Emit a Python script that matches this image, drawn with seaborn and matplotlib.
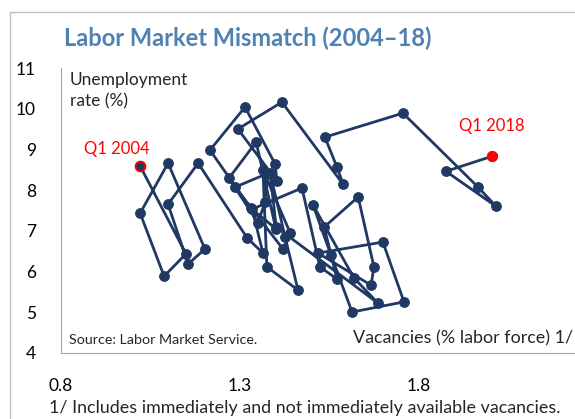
import matplotlib
matplotlib.use("Agg")
import matplotlib.pyplot as plt
import seaborn as sns
import pandas as pd
from matplotlib.patches import Rectangle

# Quarterly Beveridge curve, Q1 2004 - Q1 2018 (one row per line = one year)
vacancies = [1.021, 1.149, 1.088, 1.021,   # 2004
             1.099, 1.202, 1.155, 1.099,   # 2005
             1.183, 1.320, 1.364, 1.334,   # 2006
             1.473, 1.523, 1.571, 1.535,   # 2007
             1.630, 1.674, 1.666, 1.518,   # 2008
             1.699, 1.758, 1.613, 1.554,   # 2009
             1.504, 1.618, 1.685, 1.401,   # 2010
             1.384, 1.426, 1.462, 1.375,   # 2011
             1.364, 1.440, 1.420, 1.286,   # 2012
             1.375, 1.370, 1.350, 1.269,   # 2013
             1.345, 1.400, 1.330, 1.216,   # 2014
             1.314, 1.398, 1.403, 1.294,   # 2015
             1.417, 1.588, 1.571, 1.537,   # 2016
             1.755, 1.965, 2.015, 1.875,   # 2017
             2.004]                        # 2018
unemployment = [8.59, 6.43, 5.88, 7.43,
                8.66, 6.55, 6.18, 7.65,
                8.66, 6.82, 6.45, 7.53,
                8.05, 6.11, 5.81, 7.09,
                7.83, 6.11, 5.66, 6.45,
                6.72, 5.25, 5.00, 6.40,
                7.63, 5.84, 5.22, 7.09,
                8.42, 6.84, 5.54, 6.11,
                8.49, 6.95, 6.55, 8.07,
                8.40, 7.70, 7.20, 8.29,
                9.18, 7.05, 7.55, 8.98,
                10.04, 8.64, 8.22, 9.50,
                10.16, 8.14, 8.56, 9.30,
                9.89, 8.07, 7.60, 8.46,
                8.83]

x_ticks = [0.8, 1.3, 1.8]
y_ticks = [4, 5, 6, 7, 8, 9, 10, 11]

df = pd.DataFrame({"vac": vacancies, "unemp": unemployment})

navy = "#203864"
red = "#ff0000"
title_blue = "#4f81b4"
font = ["Lato", "DejaVu Sans"]

sns.set_theme(style="white")
plt.rcParams["font.family"] = font

fig = plt.figure(figsize=(5.75, 4.19), dpi=100)
ax = fig.add_axes([0.1061, 0.1582, 0.934, 0.6795])

sns.lineplot(data=df, x="vac", y="unemp", sort=False, estimator=None,
             errorbar=None, ax=ax, color=navy, linewidth=2.0, marker="o",
             markersize=7, markeredgecolor=navy, markerfacecolor=navy)

# first and last observations
ax.scatter(df["vac"].iloc[0], df["unemp"].iloc[0], s=50, facecolor=navy,
           edgecolor=red, linewidth=1.3, zorder=5)
ax.scatter(df["vac"].iloc[-1], df["unemp"].iloc[-1], s=50, color=red, zorder=5)
ax.text(df["vac"].iloc[0] - 0.065, df["unemp"].iloc[0] + 0.41, "Q1 2004",
        color=red, fontsize=12, ha="center", va="center")
ax.text(df["vac"].iloc[-1], df["unemp"].iloc[-1] + 0.74, "Q1 2018",
        color=red, fontsize=12, ha="center", va="center")

ax.set_xlim(0.8, 2.3)
ax.set_ylim(4, 11)
ax.set_xticks(x_ticks)
ax.set_yticks(y_ticks)
ax.set_xticklabels([f"{t:.1f}" for t in x_ticks])
ax.set_yticklabels([str(t) for t in y_ticks])
ax.set_xlabel("")
ax.set_ylabel("")
ax.tick_params(axis="x", length=0, pad=18, labelsize=12.5, colors="black")
ax.tick_params(axis="y", length=0, pad=18, labelsize=12.5, colors="black")
for side in ["top", "right"]:
    ax.spines[side].set_visible(False)
for side in ["left", "bottom"]:
    ax.spines[side].set_color("#a6a6a6")
    ax.spines[side].set_linewidth(0.8)

ax.text(0.016, 0.985, "Unemployment\nrate (%)", transform=ax.transAxes,
        fontsize=12.5, va="top", ha="left", linespacing=1.35)
ax.text(0.015, 0.045, "Source: Labor Market Service.", transform=ax.transAxes,
        fontsize=10.3, va="center", ha="left")
ax.text(353 / 575, 1 - 338 / 419, "Vacancies (% labor force) 1/",
        transform=fig.transFigure, fontsize=12.9, va="center", ha="left")

fig.text(64 / 575, 1 - 38 / 419, "Labor Market Mismatch (2004\u201318)",
         color=title_blue, fontsize=17, fontweight="bold", va="center", ha="left")
fig.text(49 / 575, 1 - 408 / 419,
         "1/ Includes immediately and not immediately available vacancies.",
         fontsize=12.9, va="center", ha="left")

fig.patches.append(Rectangle((10 / 575, -0.1), 1.2, 1.1 - 12 / 419,
                             transform=fig.transFigure, fill=False,
                             edgecolor="#bfbfbf", linewidth=1.0))

fig.savefig("out.png", dpi=100)
